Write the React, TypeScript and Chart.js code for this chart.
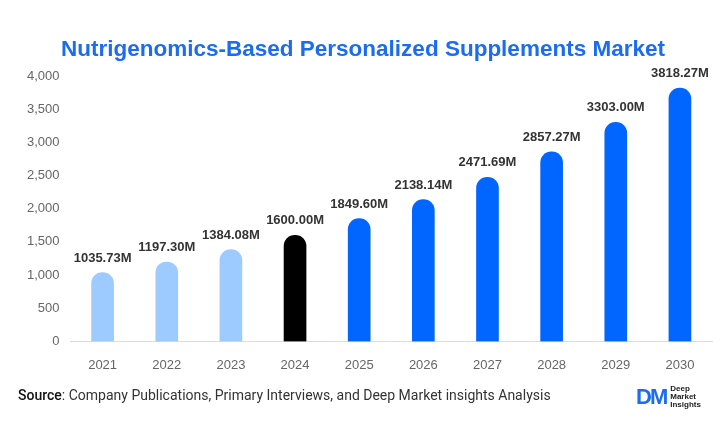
import { useEffect, useRef } from "react";
import Chart from "chart.js/auto";

const years = ["2021", "2022", "2023", "2024", "2025", "2026", "2027", "2028", "2029", "2030"];
const values = [1035.73, 1197.3, 1384.08, 1600.0, 1849.6, 2138.14, 2471.69, 2857.27, 3303.0, 3818.27];
const barColors = ["#9ecbff", "#9ecbff", "#9ecbff", "#000000", "#0066ff", "#0066ff", "#0066ff", "#0066ff", "#0066ff", "#0066ff"];

const valueLabels = {
  id: "valueLabels",
  afterDatasetsDraw(chart: Chart) {
    const ctx = chart.ctx;
    const meta = chart.getDatasetMeta(0);
    ctx.save();
    ctx.font = "bold 13px 'Liberation Sans', Arial, sans-serif";
    ctx.fillStyle = "#333";
    ctx.textAlign = "center";
    ctx.textBaseline = "bottom";
    meta.data.forEach((bar: any, i: number) => {
      ctx.fillText(values[i].toFixed(2) + "M", bar.x, bar.y - 8);
    });
    ctx.restore();
  },
};

export default function App() {
  const ref = useRef<HTMLCanvasElement>(null);

  useEffect(() => {
    if (!ref.current) return;
    const chart = new Chart(ref.current, {
      type: "bar",
      data: {
        labels: years,
        datasets: [
          {
            data: values,
            backgroundColor: barColors,
            borderRadius: { topLeft: 11, topRight: 11 },
            borderSkipped: "bottom",
            barThickness: 22,
          },
        ],
      },
      options: {
        responsive: false,
        animation: false,
        layout: { padding: { top: 76, bottom: 62, left: 24, right: 14 } },
        plugins: { legend: { display: false }, tooltip: { enabled: false } },
        scales: {
          x: {
            grid: { display: false },
            border: { color: "#ddd" },
            ticks: { color: "#666", font: { size: 13, family: "'Liberation Sans', Arial" }, padding: 8 },
          },
          y: {
            min: 0,
            max: 4000,
            grid: { display: false },
            border: { display: false },
            ticks: {
              stepSize: 500,
              color: "#666",
              font: { size: 13, family: "'Liberation Sans', Arial" },
              callback: (v: any) => Number(v).toLocaleString("en-US"),
            },
          },
        },
      },
      plugins: [valueLabels],
    });
    return () => chart.destroy();
  }, []);

  return (
    <div style={{ position: "fixed", left: 0, top: 0, width: 726, height: 443, background: "#fff", fontFamily: "'Liberation Sans', Arial, sans-serif" }}>
      <canvas ref={ref} width={726} height={443} style={{ position: "absolute", left: 0, top: 0 }} />
      <div style={{ position: "absolute", top: 36, width: 726, textAlign: "center", color: "#1a6cf0", fontWeight: "bold", fontSize: 22.5 }}>
        Nutrigenomics-Based Personalized Supplements Market
      </div>
      <div style={{ position: "absolute", left: 18, top: 387, fontSize: 14, color: "#333", fontFamily: "Roboto, sans-serif" }}>
        <span style={{ fontWeight: 500, color: "#111" }}>Source</span>: Company Publications, Primary Interviews, and Deep Market insights Analysis
      </div>
      <div style={{ position: "absolute", left: 636, top: 384, display: "flex", alignItems: "center" }}>
        <span style={{ color: "#1a6cf0", fontWeight: "bold", fontSize: 22, letterSpacing: -2 }}>DM</span>
        <span style={{ fontSize: 8, lineHeight: "8px", marginLeft: 4, color: "#222", fontWeight: "bold" }}>
          Deep<br />Market<br />Insights
        </span>
      </div>
    </div>
  );
}
